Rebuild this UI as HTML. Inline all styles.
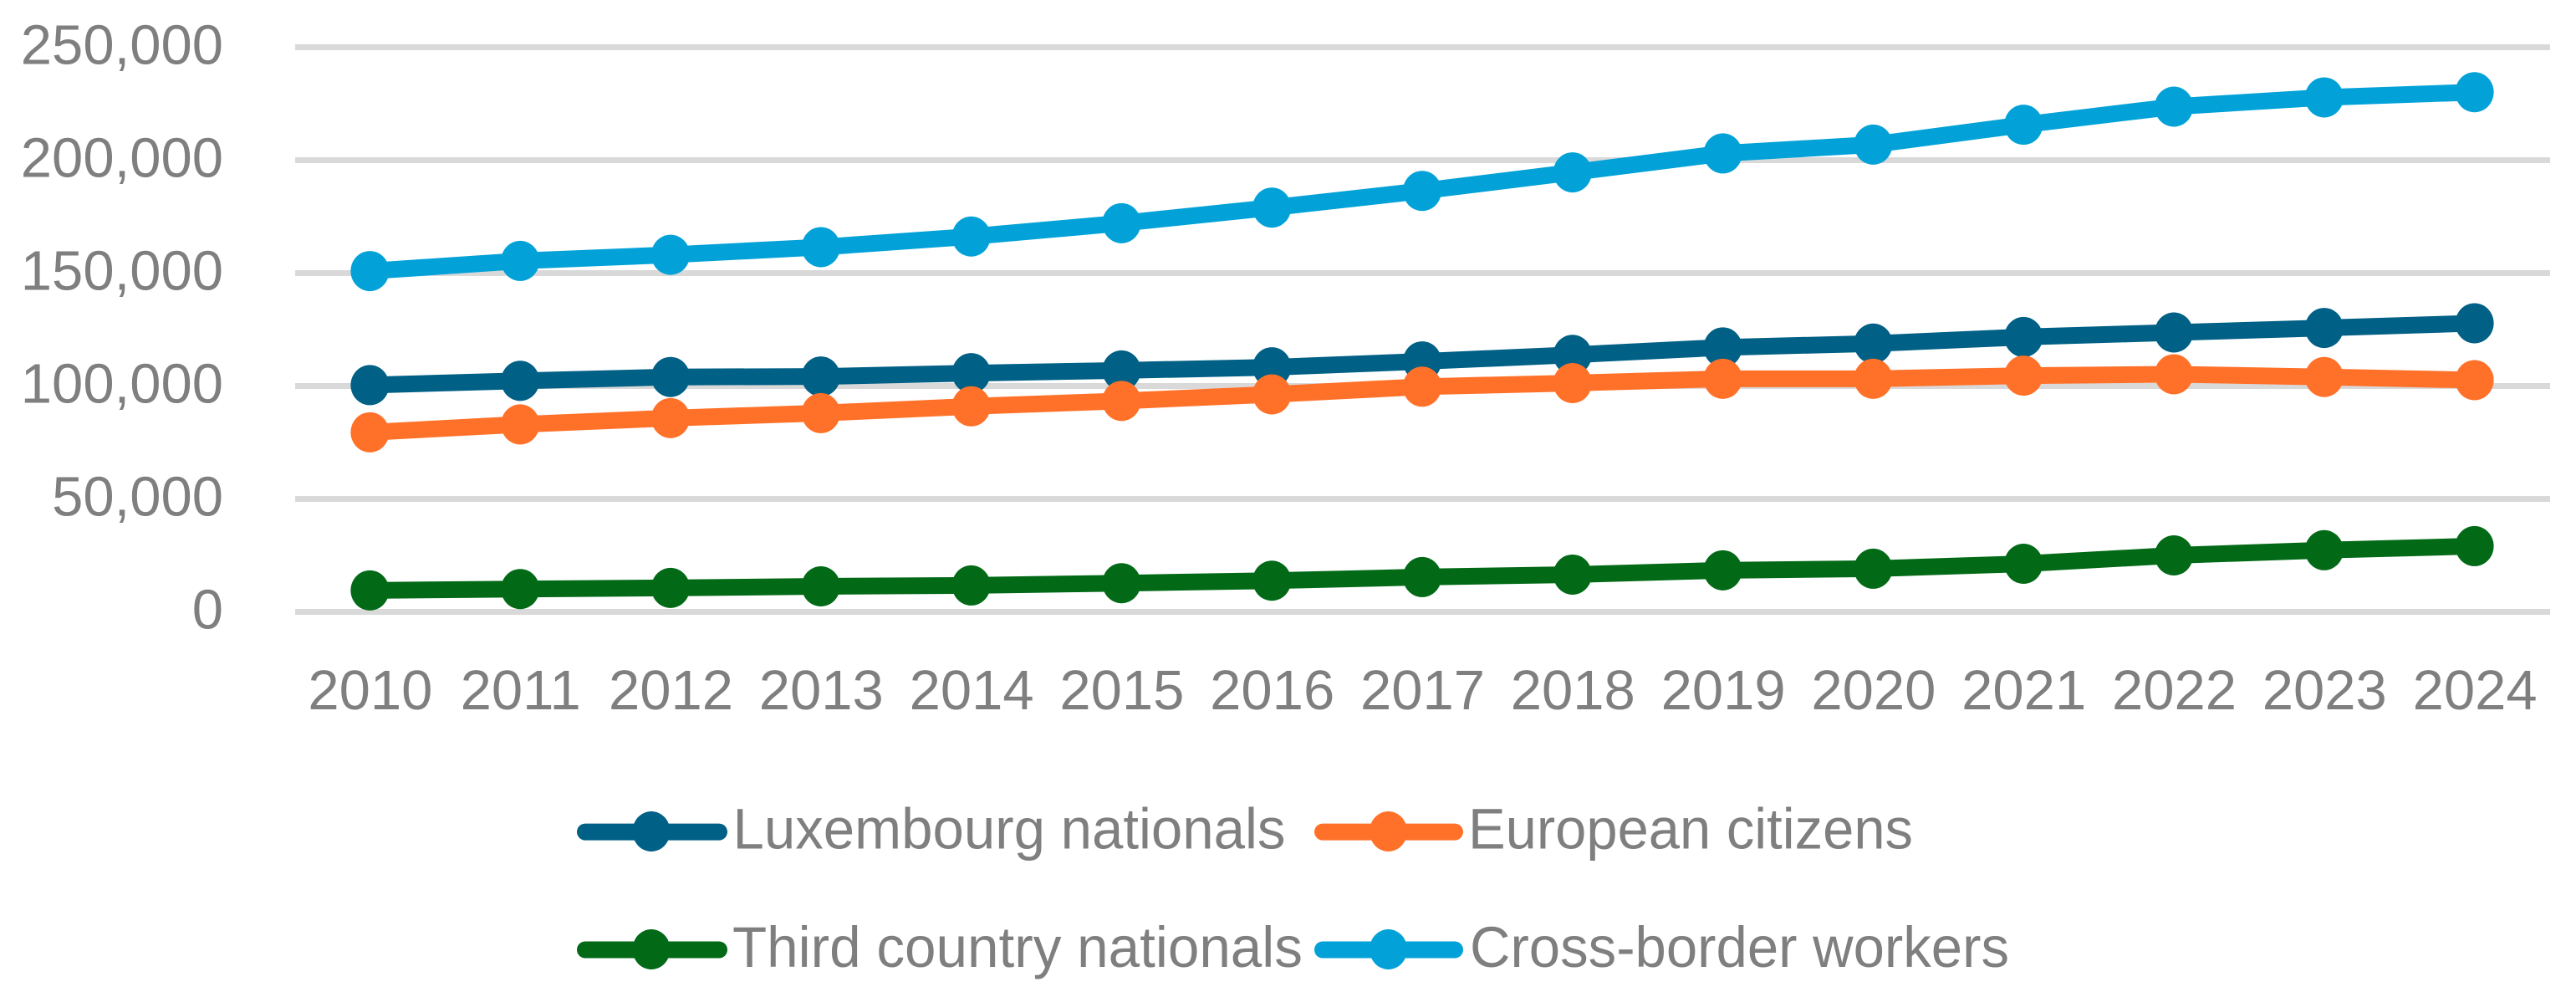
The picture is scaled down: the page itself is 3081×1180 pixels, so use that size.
<!DOCTYPE html>
<html lang="en">
<head>
<meta charset="utf-8">
<title>Employment by nationality, Luxembourg 2010-2024</title>
<style>
  html, body { margin: 0; padding: 0; background: #ffffff; }
  body { width: 3081px; height: 1180px; overflow: hidden; }
  svg { display: block; }
  text { font-family: "Liberation Sans", sans-serif; font-size: 67px; fill: #7f7f7f; }
  text.legend-text { font-size: 69px; }
</style>
</head>
<body>
<svg id="chart" xmlns="http://www.w3.org/2000/svg" width="3081" height="1180" viewBox="0 0 3081 1180">
  <rect x="0" y="0" width="3081" height="1180" fill="#ffffff"/>
  <g id="gridlines"></g>
  <g id="y-axis"></g>
  <g id="x-axis"></g>
  <g id="series"></g>
  <g>
    <g>
      <line x1="700" y1="994.6" x2="860" y2="994.6" stroke="#006085" stroke-width="20" stroke-linecap="round"/>
      <ellipse cx="779" cy="994" rx="22.5" ry="24" fill="#006085"/>
      <text class="legend-text" x="876.5" y="1014.5" textLength="661" lengthAdjust="spacingAndGlyphs">Luxembourg nationals</text>
    </g>
    <g>
      <line x1="1582" y1="994.6" x2="1740" y2="994.6" stroke="#ff7129" stroke-width="20" stroke-linecap="round"/>
      <ellipse cx="1660.5" cy="994" rx="22.5" ry="24" fill="#ff7129"/>
      <text class="legend-text" x="1756" y="1014.5" textLength="532" lengthAdjust="spacingAndGlyphs">European citizens</text>
    </g>
    <g>
      <line x1="700" y1="1135.5" x2="860" y2="1135.5" stroke="#026a17" stroke-width="20" stroke-linecap="round"/>
      <ellipse cx="779" cy="1135" rx="22.5" ry="24" fill="#026a17"/>
      <text class="legend-text" x="876" y="1156" textLength="682" lengthAdjust="spacingAndGlyphs">Third country nationals</text>
    </g>
    <g>
      <line x1="1582" y1="1135.5" x2="1740" y2="1135.5" stroke="#02a2d8" stroke-width="20" stroke-linecap="round"/>
      <ellipse cx="1660.5" cy="1135" rx="22.5" ry="24" fill="#02a2d8"/>
      <text class="legend-text" x="1758" y="1156" textLength="645" lengthAdjust="spacingAndGlyphs">Cross-border workers</text>
    </g>
  </g>
</svg>
<script>
const years = [2010, 2011, 2012, 2013, 2014, 2015, 2016, 2017, 2018, 2019, 2020, 2021, 2022, 2023, 2024];
const yTickValues = [0, 50000, 100000, 150000, 200000, 250000];
const yTickLabels = ["0", "50,000", "100,000", "150,000", "200,000", "250,000"];
const luxembourgNationals = [100400, 102300, 104000, 104200, 105700, 106900, 108300, 110900, 113800, 117100, 118800, 121700, 123700, 125700, 127800];
const europeanCitizens = [79500, 83000, 85800, 88000, 91000, 93400, 96300, 99700, 101300, 103200, 103200, 104600, 105200, 104000, 102600];
const thirdCountryNationals = [9500, 10100, 10600, 11300, 11700, 12700, 13800, 15400, 16500, 18400, 19100, 21300, 25000, 27300, 29100];
const crossBorderWorkers = [150900, 155400, 158100, 161500, 166200, 172100, 179000, 186400, 194600, 203000, 206900, 215700, 223700, 227800, 230100];

const NS = 'http://www.w3.org/2000/svg';
const plotLeft = 353, plotRight = 3050, plotZero = 731.5, plotTop = 56.5, axisMax = 250000;

function xScale(index) {
  const band = (plotRight - plotLeft) / years.length;
  return plotLeft + band * (index + 0.5) - 0.5;
}
function yScale(value) {
  return plotZero - (value / axisMax) * (plotZero - plotTop);
}
function make(tag, attrs, parent) {
  const el = document.createElementNS(NS, tag);
  for (const key in attrs) el.setAttribute(key, attrs[key]);
  parent.appendChild(el);
  return el;
}

const gridGroup = document.getElementById('gridlines');
const yGroup = document.getElementById('y-axis');
yTickValues.forEach(function (value, i) {
  const y = yScale(value);
  const grid = make('rect', { x: plotLeft, y: y - 3.5, width: plotRight - plotLeft, height: 7, fill: '#d9d9d9' }, gridGroup);
  
  
  const label = make('text', { x: 267, y: y + 20, 'text-anchor': 'end' }, yGroup);
  
  
  label.textContent = yTickLabels[i];
});

const xGroup = document.getElementById('x-axis');
years.forEach(function (year, i) {
  const label = make('text', { x: xScale(i) + 0.5, y: 848, 'text-anchor': 'middle' }, xGroup);
  
  
  label.textContent = String(year);
});

const seriesGroup = document.getElementById('series');
function drawSeries(slug, values, color) {
  const group = make('g', {}, seriesGroup);
  
  
  const points = values.map(function (v, i) { return xScale(i).toFixed(2) + ',' + yScale(v).toFixed(2); }).join(' ');
  const line = make('polyline', { points: points, fill: 'none', stroke: color, 'stroke-width': 20, 'stroke-linejoin': 'round', 'stroke-linecap': 'butt' }, group);
  
  
  values.forEach(function (v, i) {
    const dot = make('ellipse', { cx: xScale(i), cy: yScale(v), rx: 23, ry: 24, fill: color }, group);
    
    
  });
}
drawSeries('luxembourg-nationals', luxembourgNationals, '#006085');
drawSeries('european-citizens', europeanCitizens, '#ff7129');
drawSeries('third-country-nationals', thirdCountryNationals, '#026a17');
drawSeries('cross-border-workers', crossBorderWorkers, '#02a2d8');
</script>
</body>
</html>
